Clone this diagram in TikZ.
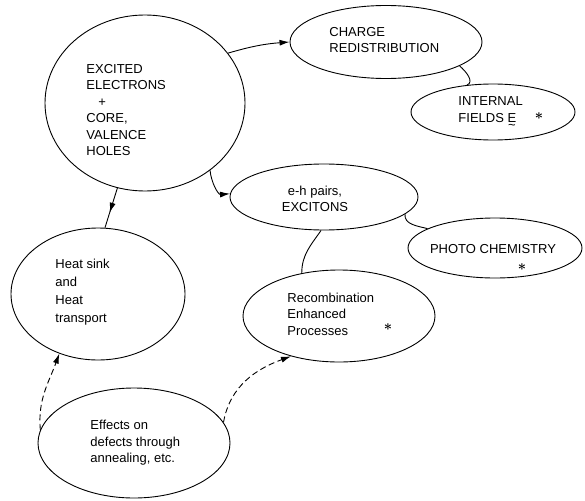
\documentclass[tikz,border=0pt]{standalone}
\usepackage{amsmath}
\usepackage{fontspec}
\setmainfont{Liberation Sans}
\usetikzlibrary{shapes.geometric,calc,arrows.meta,positioning,decorations.markings}

\begin{document}
\begin{tikzpicture}[x=1pt, y=-1pt, >={Latex[length=10pt,width=6pt]}, line width=0.9pt,
  font=\fontsize{13}{16.5}\selectfont,
  blob/.style={draw, ellipse, inner sep=0pt},
  txt/.style={align=left, anchor=west, inner sep=0pt},
  star/.style={inner sep=0pt, font=\fontsize{15}{15}\selectfont},
  longdash/.style={dash pattern=on 6pt off 3.5pt},
  midarrow/.style={postaction={decorate}, decoration={markings, mark=at position 0.62 with {\arrow{>}}}}]
\useasboundingbox (0,0) rectangle (585,500);
% ellipses
\node[blob, minimum width=200pt, minimum height=176pt] (exc) at (145,103) {};
\node[blob, minimum width=192pt, minimum height=73pt] (chg) at (386,42) {};
\node[blob, minimum width=164pt, minimum height=56pt] (fld) at (493,112) {};
\node[blob, minimum width=188pt, minimum height=66pt] (eh) at (324,197) {};
\node[blob, minimum width=174pt, minimum height=60pt] (pho) at (495,248) {};
\node[blob, minimum width=192pt, minimum height=92pt] (rec) at (339,316) {};
\node[blob, minimum width=174pt, minimum height=132pt] (heat) at (98,294) {};
\node[blob, minimum width=192pt, minimum height=110pt] (eff) at (134,443) {};
% texts
\node[txt] (exct) at (86,110) {EXCITED\\ELECTRONS\\\hspace{12pt}+\\CORE,\\VALENCE\\HOLES};
\node[txt] (chgt) at (329,40) {CHARGE\\REDISTRIBUTION};
\node[txt] (fldt) at (458,113) {INTERNAL\\FIELDS \ooalign{E\cr\hidewidth\raisebox{-1.05ex}{\textasciitilde}\hidewidth\cr}};
\node[star] (flds) at (539,116) {$\boldsymbol{\ast}$};
\node[align=center, inner sep=0pt] (eht) at (315,199) {e-h pairs,\\EXCITONS};
\node[inner sep=0pt] (phot) at (493,249) {PHOTO CHEMISTRY};
\node[star] (phos) at (522,267) {$\boldsymbol{\ast}$};
\node[txt] (rect) at (287,314) {Recombination\\Enhanced\\Processes};
\node[star] (recs) at (388,327) {$\boldsymbol{\ast}$};
\node[txt, font=\fontsize{13}{18}\selectfont] (heatt) at (55,292) {Heat sink\\and\\Heat\\transport};
\node[txt] (efft) at (90,443) {Effects on\\defects through\\annealing, etc.};
% connectors
\draw[->] (exc.31) to[bend left=6] (chg.west);
\draw[->] (exc.-46) to[out=-85, in=185] (eh.178);
\draw[midarrow] (exc.-108) -- (heat.84);
\draw (chg.-18) .. controls +(6,5) and +(8,-3) .. (fld.134);
\draw (eh.-12) to[out=-95, in=165] (pho.164);
\draw (eh.-95) to[out=-125, in=90] (rec.131);
\draw[->, longdash] (eff.172) to[out=95, in=-110] (heat.-123);
\draw[->, longdash] (eff.13) to[out=80, in=200] (rec.-140);
\end{tikzpicture}
\end{document}
